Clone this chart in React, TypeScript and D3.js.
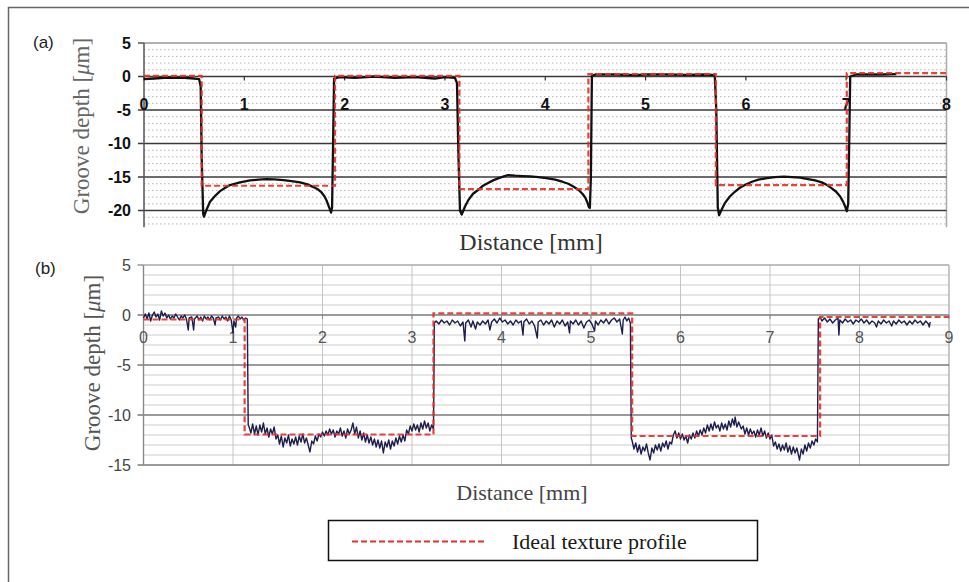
import React from "react";
import * as d3 from "d3";

// ---------- Panel (a) data ----------
const aXTicks = [0, 1, 2, 3, 4, 5, 6, 7, 8];
const aYTicks = [5, 0, -5, -10, -15, -20];
const aMinorY = [4, 3, 2, 1, -1, -2, -3, -4, -6, -7, -8, -9, -11, -12, -13, -14, -16, -17, -18, -19, -21, -22];
const aIdealEdges = [0, 0.575, 1.904, 3.144, 4.43, 5.7, 7.006, 8];
const aIdealLevels = [0.1, -16.3, 0.1, -16.8, 0.35, -16.2, 0.5];
const aProfile: [number, number][] = [
  [0, -0.4], [0.1, -0.3], [0.2, -0.2], [0.3, -0.2], [0.4, -0.2], [0.5, -0.3], [0.55, -0.4], [0.565, -1.5], [0.575, -12], [0.59, -20.5],
  [0.598, -20.9], [0.62, -20.0], [0.658, -18.7], [0.71, -17.8], [0.758, -17.1], [0.81, -16.6], [0.857, -16.2], [0.957, -15.8], [1.057, -15.5],
  [1.14, -15.4], [1.22, -15.3], [1.3, -15.35], [1.39, -15.45], [1.47, -15.6], [1.555, -15.8], [1.63, -16.1], [1.69, -16.5], [1.74, -16.9],
  [1.77, -17.3], [1.8, -17.9], [1.82, -18.5], [1.84, -19.3], [1.855, -19.9], [1.865, -20.3], [1.875, -19.5], [1.885, -10], [1.895, -0.3],
  [1.95, -0.1], [2.1, -0.2], [2.3, 0.0], [2.5, -0.2], [2.7, -0.1], [2.9, -0.3], [3.0, -0.1], [3.1, -0.2], [3.12, -1.0], [3.135, -12],
  [3.15, -20.0], [3.167, -20.6], [3.2, -19.4], [3.235, -18.4], [3.28, -17.5], [3.333, -16.9], [3.38, -16.3], [3.43, -15.9], [3.48, -15.5],
  [3.53, -15.2], [3.58, -14.95], [3.63, -14.7], [3.7, -14.8], [3.77, -14.85], [3.85, -14.9], [3.93, -15.0], [4.01, -15.15], [4.1, -15.4],
  [4.17, -15.7], [4.23, -16.0], [4.28, -16.4], [4.33, -16.9], [4.37, -17.5], [4.4, -18.1], [4.42, -18.8], [4.435, -19.5], [4.445, -19.6],
  [4.455, -15], [4.465, 0.1], [4.5, 0.3], [4.7, 0.3], [4.9, 0.2], [5.0, 0.3], [5.2, 0.3], [5.4, 0.25], [5.6, 0.3], [5.69, 0.2], [5.705, -5],
  [5.72, -19.5], [5.733, -20.7], [5.76, -19.8], [5.79, -18.9], [5.84, -17.9], [5.89, -17.2], [5.94, -16.6], [5.99, -16.2], [6.06, -15.7],
  [6.125, -15.4], [6.21, -15.15], [6.29, -15.0], [6.38, -14.95], [6.46, -15.0], [6.54, -15.1], [6.62, -15.3], [6.69, -15.5], [6.757, -15.8],
  [6.81, -16.2], [6.857, -16.7], [6.9, -17.2], [6.94, -17.9], [6.97, -18.7], [6.99, -19.4], [7.006, -20.1], [7.02, -19.0], [7.03, -10],
  [7.04, 0.0], [7.1, 0.3], [7.2, 0.3], [7.35, 0.3], [7.5, 0.35],
];

// ---------- Panel (b) data ----------
const bXTicks = [0, 1, 2, 3, 4, 5, 6, 7, 8, 9];
const bYTicks = [5, 0, -5, -10, -15];
const bMinorY = [4, 3, 2, 1, -1, -2, -3, -4, -6, -7, -8, -9, -11, -12, -13, -14];
const bIdealEdges = [0, 1.13, 3.24, 5.46, 7.56, 9];
const bIdealLevels = [-0.45, -11.95, 0.17, -12.1, -0.2];
const bProfile: [number, number][] = [
  [0, -0.3], [0.02, 0.1], [0.04, -0.4], [0.06, 0.2], [0.08, -0.6], [0.1, 0.0], [0.12, 0.3], [0.14, -0.2], [0.16, 0.1], [0.18, -0.5],
  [0.2, 0.4], [0.22, -0.1], [0.24, 0.2], [0.26, -0.3], [0.28, 0.0], [0.3, -0.4], [0.32, -0.1], [0.34, -0.3], [0.36, 0.1], [0.38, -0.2],
  [0.4, -0.5], [0.42, -0.1], [0.44, -0.3], [0.46, 0.0], [0.48, -0.4], [0.5, -1.5], [0.51, -0.3], [0.54, -0.2], [0.56, -1.5], [0.57, -0.4],
  [0.6, -0.1], [0.62, -0.5], [0.64, -0.2], [0.66, -0.6], [0.68, -0.1], [0.7, -0.4], [0.72, -0.2], [0.74, -0.5], [0.76, -0.1], [0.78, -0.3],
  [0.8, -1.0], [0.81, -0.3], [0.84, -0.2], [0.86, -0.5], [0.88, -0.1], [0.9, -0.4], [0.92, -0.2], [0.94, -0.6], [0.96, -0.1], [0.98, -0.5],
  [1.0, -1.8], [1.01, -0.6], [1.03, -1.2], [1.04, -0.3], [1.06, -0.1], [1.08, -0.4], [1.1, -0.2], [1.12, -0.5], [1.14, -0.3], [1.16, -0.4],
  [1.17, -11.0], [1.18, -11.2], [1.2, -11.8], [1.22, -10.9], [1.24, -11.9], [1.26, -11.1], [1.28, -12.0], [1.3, -11.0], [1.32, -11.7],
  [1.34, -10.8], [1.36, -11.9], [1.38, -11.3], [1.4, -12.2], [1.42, -11.4], [1.44, -11.9], [1.46, -11.2], [1.48, -12.4], [1.5, -12.0],
  [1.52, -12.9], [1.54, -12.1], [1.56, -13.2], [1.58, -12.3], [1.6, -12.8], [1.62, -12.0], [1.64, -13.1], [1.66, -12.4], [1.68, -12.9],
  [1.7, -12.2], [1.72, -13.0], [1.74, -12.1], [1.76, -12.7], [1.78, -11.9], [1.8, -12.8], [1.82, -12.3], [1.84, -13.0], [1.86, -13.7],
  [1.88, -12.6], [1.9, -12.9], [1.92, -12.1], [1.94, -12.6], [1.96, -11.9], [1.98, -12.2], [2.0, -11.7], [2.02, -12.1], [2.04, -11.6],
  [2.06, -12.0], [2.08, -11.4], [2.1, -11.9], [2.12, -11.5], [2.14, -12.2], [2.16, -11.6], [2.18, -11.9], [2.2, -11.3], [2.22, -12.1],
  [2.24, -11.6], [2.26, -12.3], [2.28, -11.4], [2.3, -11.9], [2.32, -11.5], [2.34, -10.8], [2.36, -11.9], [2.38, -11.2], [2.4, -12.3],
  [2.42, -11.6], [2.44, -12.5], [2.46, -11.8], [2.48, -12.7], [2.5, -12.0], [2.52, -12.8], [2.54, -12.2], [2.56, -13.0], [2.58, -12.4],
  [2.6, -13.2], [2.62, -12.5], [2.64, -13.3], [2.66, -12.6], [2.68, -13.8], [2.7, -12.7], [2.72, -13.2], [2.74, -12.5], [2.76, -13.4],
  [2.78, -12.6], [2.8, -13.1], [2.82, -12.3], [2.84, -12.9], [2.86, -12.1], [2.88, -12.7], [2.9, -12.0], [2.92, -12.6], [2.94, -11.5],
  [2.96, -11.9], [2.98, -11.1], [3.0, -11.6], [3.02, -10.9], [3.04, -11.5], [3.06, -11.0], [3.08, -11.7], [3.1, -10.8], [3.12, -11.4],
  [3.14, -10.6], [3.16, -11.3], [3.18, -10.8], [3.2, -11.6], [3.22, -11.0], [3.24, -11.4], [3.25, -0.8],
  [3.27, -0.6], [3.3, -0.9], [3.33, -0.5], [3.36, -0.8], [3.39, -0.6], [3.42, -1.0], [3.45, -0.5], [3.48, -0.8], [3.51, -0.6], [3.54, -1.1],
  [3.57, -0.7], [3.59, -2.6], [3.6, -0.8], [3.63, -0.5], [3.66, -1.2], [3.68, -0.6], [3.71, -1.4], [3.73, -0.7], [3.76, -1.0], [3.79, -0.6],
  [3.82, -0.9], [3.85, -0.5], [3.87, -1.5], [3.89, -0.7], [3.92, -0.4], [3.95, -0.8], [3.98, -0.3], [4.01, -0.7], [4.04, -0.5], [4.07, -0.9],
  [4.1, -0.6], [4.13, -1.0], [4.16, -0.5], [4.19, -0.8], [4.22, -0.6], [4.24, -2.0], [4.25, -0.7], [4.28, -0.4], [4.31, -0.9], [4.34, -0.6],
  [4.37, -1.1], [4.4, -2.3], [4.41, -0.7], [4.44, -0.5], [4.47, -1.0], [4.5, -0.6], [4.53, -0.9], [4.56, -0.5], [4.59, -1.2], [4.62, -0.6],
  [4.65, -0.9], [4.68, -0.5], [4.71, -1.1], [4.74, -0.7], [4.76, -1.8], [4.77, -0.6], [4.8, -0.9], [4.83, -0.5], [4.86, -1.0], [4.89, -0.6],
  [4.92, -1.3], [4.95, -0.7], [4.98, -0.5], [5.01, -0.9], [5.04, -1.6], [5.05, -0.6], [5.08, -1.0], [5.11, -0.5], [5.14, -0.8], [5.17, -0.4],
  [5.2, -0.9], [5.23, -0.5], [5.26, -0.3], [5.29, -0.7], [5.32, -0.4], [5.35, -1.9], [5.36, -0.5], [5.38, -0.2], [5.4, -0.6], [5.42, -0.3],
  [5.44, -0.8], [5.45, -12.3],
  [5.46, -12.6], [5.48, -13.4], [5.5, -12.8], [5.52, -13.7], [5.54, -13.0], [5.56, -13.9], [5.58, -13.2], [5.6, -13.6], [5.62, -12.9],
  [5.64, -13.8], [5.66, -14.5], [5.68, -13.3], [5.7, -13.8], [5.72, -13.0], [5.74, -13.5], [5.76, -12.9], [5.78, -13.6], [5.8, -12.8],
  [5.82, -13.2], [5.84, -12.6], [5.86, -13.4], [5.88, -12.7], [5.9, -12.9], [5.92, -12.0], [5.94, -11.6], [5.96, -12.3], [5.98, -11.8],
  [6.0, -12.4], [6.02, -11.9], [6.04, -12.5], [6.06, -12.1], [6.08, -12.8], [6.1, -12.0], [6.12, -12.4], [6.14, -11.8], [6.16, -12.3],
  [6.18, -11.6], [6.2, -12.1], [6.22, -11.5], [6.24, -12.0], [6.26, -11.3], [6.28, -11.8], [6.3, -11.0], [6.32, -11.6], [6.34, -10.9],
  [6.36, -11.5], [6.38, -10.7], [6.4, -11.3], [6.42, -11.0], [6.44, -11.6], [6.46, -10.8], [6.48, -11.4], [6.5, -10.9], [6.52, -11.5],
  [6.54, -10.6], [6.56, -11.2], [6.58, -10.4], [6.6, -11.0], [6.61, -10.2], [6.63, -11.2], [6.65, -10.7], [6.68, -11.4], [6.7, -11.1],
  [6.72, -11.9], [6.74, -11.3], [6.76, -12.0], [6.78, -11.4], [6.8, -11.9], [6.82, -11.6], [6.84, -12.2], [6.86, -11.5], [6.88, -12.0],
  [6.9, -11.3], [6.92, -12.1], [6.94, -11.6], [6.96, -12.3], [6.98, -11.8], [7.0, -12.4], [7.02, -12.0], [7.04, -13.1], [7.06, -12.7],
  [7.08, -13.4], [7.1, -12.9], [7.12, -13.6], [7.14, -13.0], [7.16, -13.5], [7.18, -12.8], [7.2, -13.7], [7.22, -13.1], [7.24, -13.9],
  [7.26, -13.2], [7.28, -13.8], [7.3, -13.3], [7.33, -14.5], [7.35, -13.4], [7.37, -13.9], [7.39, -13.0], [7.41, -13.6], [7.43, -12.8],
  [7.45, -13.3], [7.47, -12.6], [7.49, -13.0], [7.51, -12.4], [7.53, -12.7], [7.54, -0.4],
  [7.56, -0.2], [7.58, -0.6], [7.61, -0.3], [7.64, -0.7], [7.67, -0.4], [7.7, -0.8], [7.73, -0.5], [7.76, -0.3], [7.77, -2.0], [7.78, -0.5],
  [7.81, -0.8], [7.84, -0.4], [7.87, -0.7], [7.9, -0.5], [7.93, -0.9], [7.96, -0.5], [7.99, -0.7], [8.02, -0.4], [8.05, -0.8], [8.08, -0.5],
  [8.11, -0.9], [8.14, -0.6], [8.17, -0.8], [8.19, -1.2], [8.21, -0.6], [8.24, -0.9], [8.27, -0.5], [8.3, -0.8], [8.33, -0.6], [8.36, -1.1],
  [8.38, -0.6], [8.41, -0.9], [8.44, -0.5], [8.47, -0.8], [8.5, -0.6], [8.53, -1.0], [8.56, -0.6], [8.59, -0.9], [8.62, -0.5], [8.65, -0.8],
  [8.68, -0.6], [8.71, -1.0], [8.74, -0.6], [8.77, -0.9], [8.78, -1.2], [8.79, -0.7],
];

const legendLabel = "Ideal texture profile";
const xTitle = "Distance [mm]";

const SANS = "'Liberation Sans', Arial, sans-serif";
const SERIF = "'Liberation Serif', 'Times New Roman', serif";
const RED = "#e2312b";

function stepPoints(edges: number[], levels: number[]): [number, number][] {
  const pts: [number, number][] = [];
  levels.forEach((lv, i) => {
    pts.push([edges[i], lv]);
    pts.push([edges[i + 1], lv]);
  });
  return pts;
}

function YTitle({ x, y, color }: { x: number; y: number; color: string }) {
  return (
    <text
      transform={`translate(${x},${y}) rotate(-90)`}
      textAnchor="middle"
      fontFamily={SERIF}
      fontSize={23}
      fill={color}
    >
      Groove depth [<tspan fontStyle="italic">μ</tspan>m]
    </text>
  );
}

export default function App() {
  // Panel (a) scales
  const ax = d3.scaleLinear().domain([0, 8]).range([144, 946.5]);
  const ay = d3.scaleLinear().domain([5, -22.5]).range([43, 227.3]);
  // Panel (b) scales
  const bx = d3.scaleLinear().domain([0, 9]).range([143.5, 949]);
  const by = d3.scaleLinear().domain([5, -15]).range([265, 465]);

  const aLine = d3.line<[number, number]>().x((d) => ax(d[0])).y((d) => ay(d[1]));
  const bLine = d3.line<[number, number]>().x((d) => bx(d[0])).y((d) => by(d[1]));

  const aIdeal = stepPoints(aIdealEdges, aIdealLevels);
  const bIdeal = stepPoints(bIdealEdges, bIdealLevels);

  const [ax0, ax1] = ax.range();
  const [bx0, bx1] = bx.range();

  return (
    <svg
      width={969}
      height={582}
      style={{ position: "absolute", left: 0, top: 0, background: "#fff" }}
    >
      <rect x={0} y={0} width={969} height={582} fill="#fff" />
      {/* outer frame */}
      <rect x={8.5} y={7.5} width={990} height={620} fill="none" stroke="#666" strokeWidth={1.5} />

      {/* ================= Panel (a) ================= */}
      <text x={33} y={48} fontFamily={SANS} fontSize={17} fill="#222">(a)</text>
      {aMinorY.map((v) => (
        <line key={"am" + v} x1={ax0} x2={ax1} y1={ay(v)} y2={ay(v)} stroke="#b4b4b4" strokeWidth={1} strokeDasharray="1.5,2.5" />
      ))}
      {/* plot border */}
      <line x1={ax0} x2={ax1} y1={ay(5)} y2={ay(5)} stroke="#999" strokeWidth={1.5} />
      <line x1={ax1} x2={ax1} y1={ay(5)} y2={ay(-22.5)} stroke="#aaa" strokeWidth={1.5} />
      {aYTicks.filter((v) => v !== 5).map((v) => (
        <line key={"aM" + v} x1={ax0 - 6} x2={ax1} y1={ay(v)} y2={ay(v)} stroke="#3a3a3a" strokeWidth={1.6} />
      ))}
      <line x1={ax0 - 6} x2={ax0} y1={ay(5)} y2={ay(5)} stroke="#555" strokeWidth={1.5} />
      <line x1={ax0} x2={ax0} y1={ay(5)} y2={ay(-22.5)} stroke="#555" strokeWidth={1.5} />
      {aXTicks.map((v) => (
        <line key={"axt" + v} x1={ax(v)} x2={ax(v)} y1={ay(0)} y2={ay(0) + 4} stroke="#333" strokeWidth={1.2} />
      ))}
      {aYTicks.map((v) => (
        <text key={"ayl" + v} x={131} y={ay(v) + 5.5} textAnchor="end" fontFamily={SANS} fontWeight="bold" fontSize={16} fill="#111">
          {v}
        </text>
      ))}
      {aXTicks.map((v) => (
        <text key={"axl" + v} x={ax(v)} y={110} textAnchor="middle" fontFamily={SANS} fontWeight="bold" fontSize={16} fill="#111">
          {v}
        </text>
      ))}
      <path d={aLine(aProfile) || ""} fill="none" stroke="#111" strokeWidth={2.3} strokeLinejoin="round" />
      <path d={aLine(aIdeal) || ""} fill="none" stroke={RED} strokeWidth={2.2} strokeDasharray="6,3" opacity={0.9} />
      <YTitle x={89} y={126} color="#666" />
      <text x={531} y={250} textAnchor="middle" fontFamily={SERIF} fontSize={24} fill="#333">{xTitle}</text>

      {/* ================= Panel (b) ================= */}
      <text x={35} y={274} fontFamily={SANS} fontSize={17} fill="#222">(b)</text>
      {bMinorY.map((v) => (
        <line key={"bm" + v} x1={bx0} x2={bx1} y1={by(v)} y2={by(v)} stroke="#cdcdcd" strokeWidth={1} />
      ))}
      {bXTicks.filter((v) => v > 0 && v < 9).map((v) => (
        <line key={"bv" + v} x1={bx(v)} x2={bx(v)} y1={by(5)} y2={by(-15)} stroke="#c4c4c4" strokeWidth={1} />
      ))}
      <line x1={bx0} x2={bx1} y1={by(5)} y2={by(5)} stroke="#aaa" strokeWidth={1.3} />
      <line x1={bx1} x2={bx1} y1={by(5)} y2={by(-15)} stroke="#aaa" strokeWidth={1.3} />
      {bYTicks.filter((v) => v !== 5).map((v) => (
        <line key={"bM" + v} x1={bx0 - 6} x2={bx1} y1={by(v)} y2={by(v)} stroke="#7a7a7a" strokeWidth={1.4} />
      ))}
      <line x1={bx0 - 6} x2={bx0} y1={by(5)} y2={by(5)} stroke="#888" strokeWidth={1.3} />
      <line x1={bx0} x2={bx0} y1={by(5)} y2={by(-15)} stroke="#888" strokeWidth={1.4} />
      {bXTicks.map((v) => (
        <line key={"bxt" + v} x1={bx(v)} x2={bx(v)} y1={by(0)} y2={by(0) + 4} stroke="#888" strokeWidth={1} />
      ))}
      {bYTicks.map((v) => (
        <text key={"byl" + v} x={131} y={by(v) + 5.5} textAnchor="end" fontFamily={SANS} fontSize={16} fill="#444">
          {v}
        </text>
      ))}
      {bXTicks.map((v) => (
        <text key={"bxl" + v} x={bx(v)} y={343} textAnchor="middle" fontFamily={SANS} fontSize={16} fill="#555">
          {v}
        </text>
      ))}
      <path d={bLine(bProfile) || ""} fill="none" stroke="#1d1d4e" strokeWidth={1.4} strokeLinejoin="round" />
      <path d={bLine(bIdeal) || ""} fill="none" stroke={RED} strokeWidth={2.2} strokeDasharray="6,3" opacity={0.9} />
      <YTitle x={100} y={363} color="#555" />
      <text x={522} y={500} textAnchor="middle" fontFamily={SERIF} fontSize={22} fill="#444">{xTitle}</text>

      {/* ================= Legend ================= */}
      <rect x={328.5} y={520.5} width={429} height={40} fill="#fff" stroke="#111" strokeWidth={1.5} />
      <line x1={352} x2={487} y1={541.5} y2={541.5} stroke={RED} strokeWidth={2.2} strokeDasharray="6,3" />
      <text x={512} y={549} fontFamily={SERIF} fontSize={22} fill="#1a1a1a">{legendLabel}</text>
    </svg>
  );
}
